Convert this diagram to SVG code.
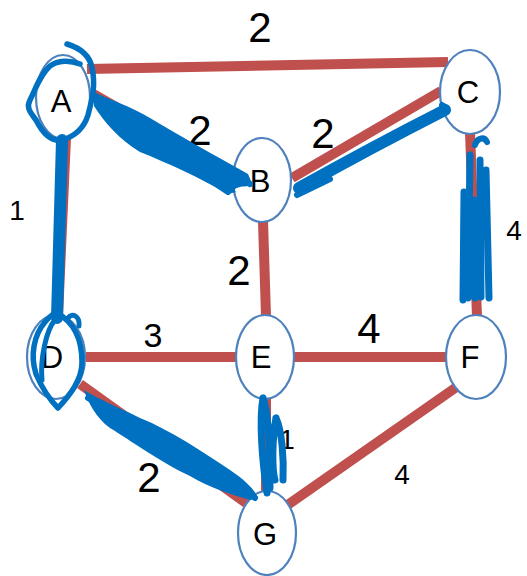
<svg xmlns="http://www.w3.org/2000/svg" width="527" height="576" viewBox="0 0 527 576">
<style>
.edge{stroke:#C0504D;stroke-width:10;fill:none}
.node ellipse{fill:#fff;stroke:#4F81BD;stroke-width:2.2}
.lbl{font-family:"Liberation Sans",Arial,sans-serif;font-size:31px;fill:#000;text-anchor:middle}
.w{font-family:"Liberation Sans",Arial,sans-serif;fill:#000;text-anchor:middle}
.big{font-size:42px}
.mid{font-size:34px}
.sm{font-size:28px}
.ink{stroke:#0070C0;fill:none;stroke-linecap:round;stroke-linejoin:round}
.inkf{fill:#0070C0}
</style>
<rect width="527" height="576" fill="#fff"/>
<g id="connectors">
<line class="edge" x1="87" y1="69" x2="448" y2="62"/>
<line class="edge" x1="90" y1="92" x2="240" y2="178"/>
<line class="edge" x1="292" y1="178" x2="441" y2="91"/>
<line class="edge" x1="470" y1="132" x2="477" y2="316"/>
<line class="edge" x1="66" y1="138" x2="58" y2="316"/>
<line class="edge" x1="263" y1="221" x2="266" y2="316"/>
<line class="edge" x1="86" y1="357" x2="237" y2="357"/>
<line class="edge" x1="294" y1="357" x2="447" y2="357"/>
<line class="edge" x1="80" y1="384" x2="246" y2="503"/>
<line class="edge" x1="266" y1="398" x2="266" y2="492"/>
<line class="edge" x1="458" y1="386" x2="286" y2="506"/>
</g>
<g id="node-A" class="node"><ellipse cx="63" cy="97" rx="27" ry="42"/><text class="lbl" x="61" y="112">A</text></g>
<g id="node-B" class="node"><ellipse cx="262" cy="180" rx="29" ry="42"/><text class="lbl" x="260" y="192">B</text></g>
<g id="node-C" class="node"><ellipse cx="470" cy="92" rx="30" ry="42"/><text class="lbl" x="468" y="103">C</text></g>
<g id="node-D" class="node"><ellipse cx="56" cy="357" rx="29" ry="42"/><text class="lbl" x="52" y="368">D</text></g>
<g id="node-E" class="node"><ellipse cx="265" cy="357" rx="29" ry="42"/><text class="lbl" x="261" y="368">E</text></g>
<g id="node-F" class="node"><ellipse cx="476" cy="357" rx="30" ry="42"/><text class="lbl" x="470" y="368">F</text></g>
<g id="node-G" class="node"><ellipse cx="267" cy="533" rx="29" ry="42"/><text class="lbl" x="265" y="545">G</text></g>
<g id="weights">
<text class="w big" x="260" y="42">2</text>
<text class="w big" x="200" y="145">2</text>
<text class="w big" x="323" y="148">2</text>
<text class="w big" x="239" y="285">2</text>
<text class="w big" x="149" y="492">2</text>
<text class="w big" x="369" y="343">4</text>
<text class="w sm" x="17" y="220">1</text>
<text class="w sm" x="514" y="240">4</text>
<text class="w mid" x="153" y="347">3</text>
<text class="w sm" x="287" y="449">1</text>
<text class="w sm" x="402" y="484">4</text>
</g>
<g id="scribbles">
<path class="ink" stroke-width="5.5" d="M67 44 C80 48 90 56 92 68 C96 85 92 100 88 115 C84 128 76 136 62 140 C50 142 42 132 36 120 C30 112 26 108 30 100 C36 88 40 75 50 66 C58 60 70 60 80 64"/>
<path class="ink" stroke-width="12" d="M62 140 L57 318"/>
<path class="inkf" d="M94 92 C110 100 130 106 150 118 C180 136 212 154 248 174 L253 186 C240 186 232 188 236 192 L228 194 C200 178 170 164 140 152 C120 140 104 122 94 106 Z"/>
<path class="ink" stroke-width="6" d="M98 100 L250 184 M150 140 L228 192"/>
<path class="ink" stroke-width="12" d="M299 188 C340 165 390 138 445 110"/>
<path class="ink" stroke-width="6" d="M297 195 L330 179 M442 105 L447 108"/>
<path class="ink" stroke-width="6" d="M475 145 C477 138 484 136 487 142"/>
<path class="ink" stroke-width="7" d="M470 155 L468 298 M480 160 L481 297 M486 170 L489 298 M464 192 L463 300 M474 200 L475 298"/>
<path class="ink" stroke-width="5.5" d="M57 313 C74 322 82 340 82 362 C82 380 70 395 58 408 C50 400 42 388 36 374 C30 355 34 335 45 322 C50 316 54 313 57 313 Z"/>
<path class="ink" stroke-width="5" d="M68 318 C72 312 80 316 79 326"/>
<path class="ink" stroke-width="5" d="M42 380 C40 360 46 330 55 320"/>
<path class="inkf" d="M84 390 C100 400 120 408 140 418 C170 430 200 450 230 470 C245 480 255 490 258 498 L250 500 C230 494 210 488 190 476 C160 462 130 440 110 428 C96 418 88 402 84 390 Z"/>
<path class="ink" stroke-width="6" d="M88 398 L255 498"/>
<path class="ink" stroke-width="7" d="M263 398 C259 420 262 460 267 493 M263 398 C268 410 270 450 270 488 M276 418 C272 440 272 470 275 480 M276 418 C282 430 284 460 283 480"/>
</g>
</svg>
